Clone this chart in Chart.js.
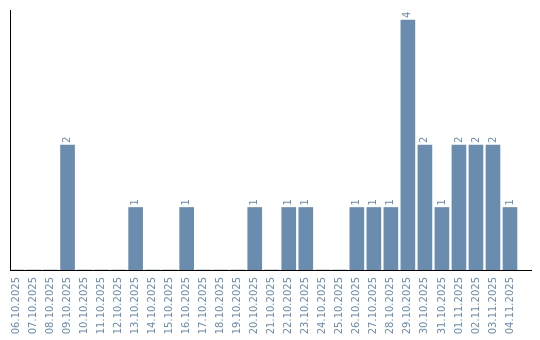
<!DOCTYPE html>
<html>
<head>
<meta charset="utf-8">
<script src="https://cdn.jsdelivr.net/npm/chart.js@4.4.1/dist/chart.umd.min.js"></script>
<style>
  body { margin: 0; background: #fff; }
</style>
</head>
<body>
<canvas id="barChart" width="540" height="340"></canvas>
<script>
const dates = ['06.10.2025', '07.10.2025', '08.10.2025', '09.10.2025', '10.10.2025', '11.10.2025',
  '12.10.2025', '13.10.2025', '14.10.2025', '15.10.2025', '16.10.2025', '17.10.2025',
  '18.10.2025', '19.10.2025', '20.10.2025', '21.10.2025', '22.10.2025', '23.10.2025',
  '24.10.2025', '25.10.2025', '26.10.2025', '27.10.2025', '28.10.2025', '29.10.2025',
  '30.10.2025', '31.10.2025', '01.11.2025', '02.11.2025', '03.11.2025', '04.11.2025'];
const counts = [0, 0, 0, 2, 0, 0, 0, 1, 0, 0, 1, 0, 0, 0, 1, 0, 1, 1, 0, 0, 1, 1, 1, 4, 2, 1, 2, 2, 2, 1];

const barColor = 'rgb(106, 140, 174)';

// value labels above the bars, rotated like the tick labels
const barLabels = {
  id: 'barLabels',
  afterDatasetsDraw(chart) {
    const ctx = chart.ctx;
    const meta = chart.getDatasetMeta(0);
    ctx.save();
    ctx.font = '10px "DejaVu Sans"';
    ctx.fillStyle = barColor;
    ctx.textAlign = 'left';
    ctx.textBaseline = 'middle';
    meta.data.forEach((bar, i) => {
      if (!counts[i]) return;
      ctx.save();
      ctx.translate(bar.x, bar.y - 2);
      ctx.rotate(-Math.PI / 2);
      ctx.fillText(String(counts[i]), 0, 0);
      ctx.restore();
    });
    ctx.restore();
  }
};

new Chart(document.getElementById('barChart'), {
  type: 'bar',
  data: {
    datasets: [{
      data: counts.map((v, i) => ({ x: i, y: v })),
      backgroundColor: barColor,
      barThickness: 14
    }]
  },
  options: {
    responsive: false,
    animation: false,
    layout: { padding: { left: 10, top: 10, right: 9, bottom: 0 } },
    plugins: { legend: { display: false }, tooltip: { enabled: false } },
    scales: {
      x: {
        type: 'linear',
        offset: false,
        min: -0.382,
        max: 30.235,
        grid: { display: false, drawTicks: false, offset: false },
        border: { display: true, color: '#000', width: 1 },
        afterFit(scale) {
          scale.height = 70;
          scale.paddingLeft = 0;
          scale.paddingRight = 0;
        },
        ticks: {
          stepSize: 1,
          includeBounds: false,
          autoSkip: false,
          maxRotation: 90,
          minRotation: 90,
          padding: 7,
          color: barColor,
          font: { family: 'DejaVu Sans', size: 10 },
          callback: (v) => dates[v] || ''
        }
      },
      y: {
        min: 0,
        max: 4.16,
        grid: { display: false, drawTicks: false },
        border: { display: true, color: '#000', width: 1 },
        ticks: { display: false }
      }
    }
  },
  plugins: [barLabels]
});
</script>
</body>
</html>
